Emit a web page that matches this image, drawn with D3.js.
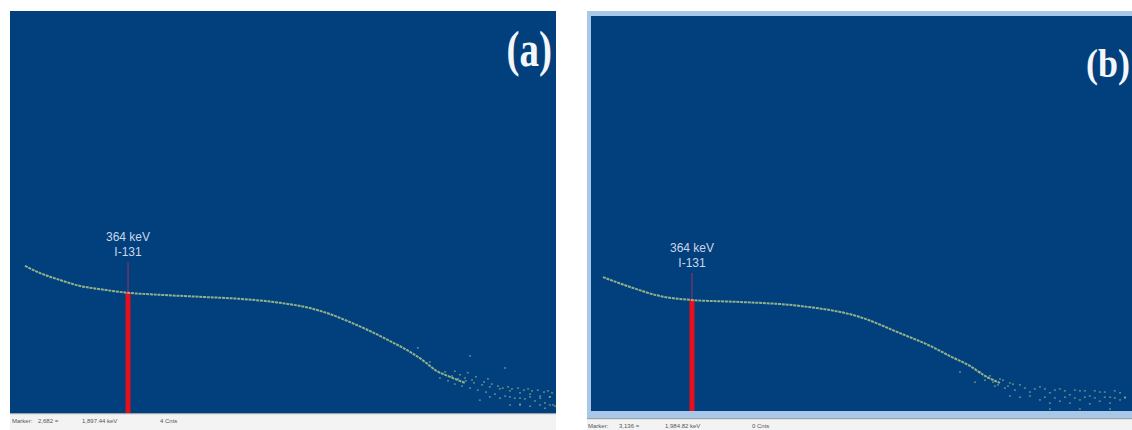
<!DOCTYPE html>
<html>
<head>
<meta charset="utf-8">
<script src="https://cdn.jsdelivr.net/npm/d3@7"></script>
<style>
  body { margin: 0; background: #fff; }
  svg { display: block; }
</style>
</head>
<body>
<svg id="viz" width="1132" height="430"></svg>
<script>
// spectrum (a): energy in keV, counts in % of full scale
var energyA = [46, 93, 154, 216, 278, 364, 463, 586, 709, 833, 925, 987, 1049, 1110, 1172, 1234, 1280, 1311, 1357, 1403];
var countsA = [36.6, 34.8, 33.1, 31.6, 30.8, 29.9, 29.4, 28.9, 28.4, 27.4, 26.1, 24.6, 22.6, 20.4, 17.9, 15.2, 12.7, 10.7, 9.0, 7.5];
// scattered high energy channels (a)
var tailEnergyA = [1326, 1342, 1351, 1363, 1372, 1382, 1394, 1406, 1419, 1431, 1443, 1456, 1468, 1480, 1496, 1511, 1527, 1542, 1557, 1573, 1588, 1604, 1619, 1635, 1650, 1665, 1675, 1295, 1258, 1419, 1527, 1449, 1573, 1650,
  1372, 1388, 1403, 1412, 1425, 1437, 1462, 1474, 1486, 1505, 1520, 1536, 1548, 1567, 1585, 1598, 1610, 1628, 1647, 1659, 1672,
  1480, 1511, 1542, 1573, 1604, 1635, 1665, 1542, 1573, 1604, 1635, 1665, 1681];
var tailCountsA = [8.7, 10.2, 8.0, 9.2, 7.2, 8.5, 6.7, 8.0, 6.2, 7.5, 5.7, 7.0, 5.2, 6.5, 4.7, 6.0, 4.2, 5.5, 3.7, 5.0, 3.5, 4.7, 3.0, 4.2, 2.5, 4.0, 2.0, 12.7, 16.2, 14.2, 11.2, 3.2, 2.2, 1.2,
  10.4, 9.5, 8.7, 10.0, 8.2, 9.0, 7.7, 8.5, 7.2, 6.7, 6.2, 6.5, 6.0, 6.2, 5.7, 6.0, 5.5, 5.7, 5.2, 5.5, 5.0,
  4.0, 3.7, 4.0, 3.7, 4.0, 3.7, 4.0, 2.0, 2.0, 1.7, 2.0, 2.0, 1.7];

// spectrum (b)
var energyB = [43, 141, 249, 364, 537, 753, 969, 1114, 1222, 1294, 1366, 1420, 1474];
var countsB = [33.9, 31.4, 29.1, 28.1, 27.6, 26.6, 23.8, 19.7, 16.5, 13.9, 11.4, 8.9, 7.1];
var tailEnergyB = [1420, 1438, 1456, 1474, 1492, 1510, 1528, 1546, 1582, 1618, 1654, 1690, 1726, 1762, 1798, 1834, 1871, 1907, 1925, 1618, 1690, 1762, 1834, 1907, 1330, 1384, 1654, 1762, 1871,
  1402, 1431, 1449, 1467, 1485, 1503, 1521, 1564, 1600, 1636, 1672, 1708, 1744, 1780, 1816, 1852, 1888,
  1510, 1546, 1582, 1636, 1672, 1708, 1744, 1780, 1816, 1852, 1888, 1925, 1654, 1726, 1798, 1871];
var tailCountsB = [7.8, 8.9, 6.3, 8.1, 5.8, 7.1, 5.3, 6.6, 4.8, 6.1, 4.6, 5.6, 4.1, 5.1, 3.8, 4.8, 3.5, 4.6, 3.3, 2.8, 2.5, 2.8, 2.5, 2.8, 9.9, 7.3, 0.5, 0.5, 0.5,
  9.9, 8.4, 7.3, 6.6, 7.8, 6.3, 6.8, 5.8, 5.6, 5.6, 5.3, 5.1, 5.3, 5.1, 5.1, 4.8, 5.1,
  3.8, 3.5, 3.8, 3.5, 3.3, 3.5, 3.3, 3.5, 3.3, 3.5, 3.3, 3.5, 2.0, 2.0, 1.8, 2.0];

// peak marker
var markerEnergy = 364;
var markerLabels = ['364 keV', 'I-131'];
var markerCountsA = 29.9, markerCountsB = 28.1;

// status bar text
var statusA = ['Marker:', '2,682  =', '1,897.44 keV', '4  Cnts'];
var statusB = ['Marker:', '3,136  =', '1,984.82 keV', '0  Cnts'];

var svg = d3.select('#viz');
var blue = '#023f7d';
var dotColor = '#adc58c';

function drawPanel(opt) {
  var g = svg.append('g');

  // frame
  if (opt.frame) {
    g.append('rect').attr('x', opt.frame.x).attr('y', opt.frame.y)
      .attr('width', opt.frame.w).attr('height', opt.frame.h).attr('fill', '#a9c7e6');
  }
  g.append('rect').attr('x', opt.x0).attr('y', opt.y0)
    .attr('width', opt.x1 - opt.x0).attr('height', opt.y1 - opt.y0).attr('fill', blue);

  // status bar
  g.append('rect').attr('x', opt.statusX).attr('y', opt.statusY)
    .attr('width', opt.statusW).attr('height', 1.5).attr('fill', '#9aa3ab');
  g.append('rect').attr('x', opt.statusX).attr('y', opt.statusY + 1.5)
    .attr('width', opt.statusW).attr('height', 430 - opt.statusY).attr('fill', '#f3f3f3');
  g.selectAll('text.status').data(opt.status).enter().append('text')
    .attr('class', 'status')
    .attr('x', function(d, i) { return opt.statusX + opt.statusOff[i]; })
    .attr('y', opt.statusY + 10)
    .style('font-family', 'Liberation Sans, Arial, sans-serif')
    .style('font-size', '6px')
    .style('fill', '#555')
    .text(function(d) { return d; });

  var x = d3.scaleLinear().domain([0, opt.maxKeV]).range([opt.x0, opt.x1]);
  var y = d3.scaleLinear().domain([0, 100]).range([opt.y1, opt.y0]);

  // thin marker line above the peak
  g.append('line')
    .attr('x1', x(markerEnergy)).attr('x2', x(markerEnergy))
    .attr('y1', opt.labelY + 6).attr('y2', y(opt.markerCounts))
    .style('stroke', '#c0305a').style('stroke-width', 1.2).style('opacity', 0.7);

  // red marker bar
  g.append('rect')
    .attr('x', x(markerEnergy) - 2.5).attr('width', 5)
    .attr('y', y(opt.markerCounts)).attr('height', y(0) - y(opt.markerCounts))
    .attr('fill', '#e4101c');

  // spectrum
  var pts = opt.energy.map(function(e, i) { return [e, opt.counts[i]]; });
  var line = d3.line().x(function(d) { return x(d[0]); }).y(function(d) { return y(d[1]); })
    .curve(d3.curveMonotoneX);
  g.append('path').datum(pts)
    .attr('d', line)
    .style('fill', 'none').style('stroke', dotColor).style('stroke-width', 2)
    .style('stroke-dasharray', '3 0.8').style('opacity', 0.85);

  var tail = opt.tailEnergy.map(function(e, i) { return [e, opt.tailCounts[i]]; });
  g.selectAll('rect.dot').data(tail).enter().append('rect')
    .attr('class', 'dot')
    .attr('x', function(d) { return x(d[0]) - 1; })
    .attr('y', function(d) { return y(d[1]) - 0.6; })
    .attr('width', 2).attr('height', 1.2)
    .attr('fill', dotColor).style('opacity', 0.7);

  // marker label
  g.selectAll('text.lbl').data(markerLabels).enter().append('text')
    .attr('class', 'lbl')
    .attr('x', x(markerEnergy))
    .attr('y', function(d, i) { return opt.labelY - 15 + i * 15; })
    .attr('text-anchor', 'middle')
    .style('font-family', 'Liberation Sans, Arial, sans-serif')
    .style('font-size', '12px')
    .style('fill', '#cdd6e6')
    .text(function(d) { return d; });

  // panel tag
  g.append('text')
    .attr('transform', 'translate(' + opt.tagX + ',' + opt.tagY + ') scale(' + opt.tagScale + ',1)')
    .attr('text-anchor', 'end')
    .style('font-family', '"Liberation Serif", "Times New Roman", serif')
    .style('font-weight', 'bold')
    .style('font-size', opt.tagSize + 'px')
    .style('fill', '#f4f6fa')
    .text(opt.tag);
}

drawPanel({
  x0: 10, x1: 556, y0: 11, y1: 413, maxKeV: 1684,
  energy: energyA, counts: countsA, tailEnergy: tailEnergyA, tailCounts: tailCountsA,
  markerCounts: markerCountsA, labelY: 256,
  statusX: 10, statusY: 413, statusW: 546, status: statusA, statusOff: [2, 28, 72, 150],
  tag: '(a)', tagX: 552, tagY: 66, tagSize: 50, tagScale: 0.78
});

drawPanel({
  frame: { x: 587, y: 11, w: 545, h: 407 },
  x0: 591, x1: 1132, y0: 16, y1: 411, maxKeV: 1950,
  energy: energyB, counts: countsB, tailEnergy: tailEnergyB, tailCounts: tailCountsB,
  markerCounts: markerCountsB, labelY: 267,
  statusX: 587, statusY: 418, statusW: 545, status: statusB, statusOff: [1, 32, 78, 165],
  tag: '(b)', tagX: 1130, tagY: 77, tagSize: 40, tagScale: 0.9
});
</script>
</body>
</html>
